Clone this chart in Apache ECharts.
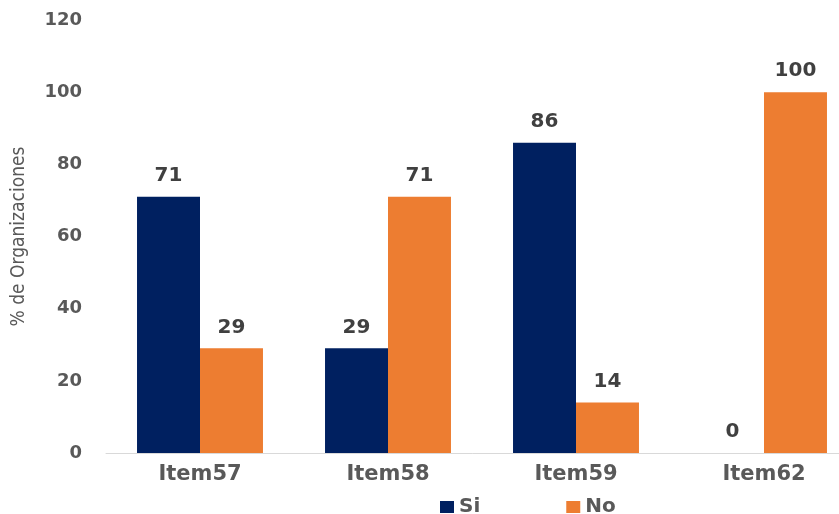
<!DOCTYPE html>
<html><head><meta charset="utf-8">
<script src="https://cdn.jsdelivr.net/npm/echarts@6/dist/echarts.min.js"></script>
<style>html,body{margin:0;padding:0;background:#fff}#c{width:839px;height:514px}</style>
</head><body><div id="c"></div>
<script>
const categories = ['Item57', 'Item58', 'Item59', 'Item62'];
const siValues = [71, 29, 86, 0];
const noValues = [29, 71, 14, 100];
const yTicks = [0, 20, 40, 60, 80, 100, 120];

const chart = echarts.init(document.getElementById('c'));
const labelStyle = {show: true, position: 'top', distance: 11, color: '#404040', fontFamily: 'DejaVu Sans', fontWeight: 'bold', fontSize: 20};
chart.setOption({
  animation: false,
  grid: {left: 106, width: 752, top: 20, height: 433, containLabel: false, outerBoundsMode: 'none'},
  legend: {
    top: 492, left: 435, itemWidth: 14, itemHeight: 12, itemGap: 86, icon: 'rect',
    textStyle: {color: '#595959', fontFamily: 'DejaVu Sans', fontWeight: 'bold', fontSize: 20}
  },
  xAxis: {
    type: 'category', data: categories,
    axisLine: {lineStyle: {color: '#D9D9D9'}}, axisTick: {show: false},
    axisLabel: {color: '#595959', fontFamily: 'DejaVu Sans', fontWeight: 'bold', fontSize: 21, margin: 11}
  },
  yAxis: {
    type: 'value', min: yTicks[0], max: yTicks[yTicks.length - 1], interval: 20,
    name: '% de Organizaciones', nameLocation: 'middle', nameGap: 77, nameRotate: 90,
    nameTextStyle: {color: '#595959', fontFamily: 'DejaVu Sans Condensed', fontSize: 19},
    axisLine: {show: false}, axisTick: {show: false}, splitLine: {show: false},
    axisLabel: {color: '#595959', fontFamily: 'DejaVu Sans', fontWeight: 'bold', fontSize: 18, margin: 24}
  },
  series: [
    {name: 'Si', type: 'bar', data: siValues, itemStyle: {color: '#002060'}, barGap: '0%', barCategoryGap: '33%', label: labelStyle},
    {name: 'No', type: 'bar', data: noValues, itemStyle: {color: '#ED7D31'}, label: labelStyle}
  ]
});
</script></body></html>
